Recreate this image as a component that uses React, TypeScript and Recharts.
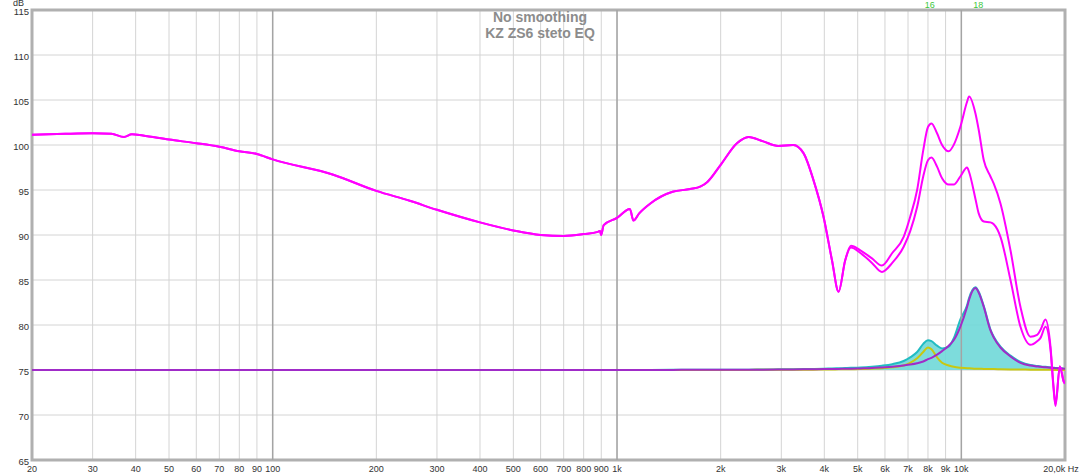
import React from "react";
import {
  ComposedChart,
  Line,
  Area,
  XAxis,
  YAxis,
  CartesianGrid,
  ReferenceLine,
  ReferenceArea,
} from "recharts";

// frequency points (Hz)
const freqs = [
  20, 25, 30, 34, 37, 39, 42, 50, 60, 70, 80, 90, 100, 150, 200, 250, 300,
  400, 500, 600, 700, 800, 880, 893, 899, 915, 1000, 1090, 1116, 1160, 1250,
  1450, 1630, 1750, 1830, 2000, 2230, 2410, 2660, 2940, 3250, 3480, 3720,
  3980, 4210, 4400, 4600, 4780, 5090, 5500, 5880, 6300, 6800, 7100, 7440,
  7750, 8000, 8190, 8500, 8790, 9190, 9500, 9930, 10390, 10530, 10990, 11230,
  11620, 12150, 12420, 12990, 13890, 14850, 15870, 16600, 17000, 17550,
  18150, 18520, 18770, 19320, 19840, 20000,
];

// measured response (dB)
const measured = [
  101.15, 101.25, 101.3, 101.25, 100.9, 101.2, 101.05, 100.6, 100.2, 99.8,
  99.3, 99.0, 98.4, 96.7, 94.9, 93.8, 92.8, 91.4, 90.5, 90.0, 89.9, 90.1,
  90.35, 90.45, 90.0, 91.1, 91.9, 92.9, 91.6, 92.4, 93.5, 94.8, 95.1, 95.4,
  95.9, 97.8, 100.2, 100.9, 100.4, 99.9, 100.0, 99.1, 96.1, 92.0, 87.2, 83.7,
  87.2, 88.6, 88.0, 86.9, 85.9, 86.9, 88.7, 90.4, 93.1, 96.5, 98.3, 98.6,
  97.6, 96.3, 95.6, 95.6, 96.5, 97.5, 97.0, 94.0, 92.4, 91.5, 91.4, 91.2,
  89.8, 85.0, 79.8, 77.8, 78.2, 78.6, 79.8, 77.3, 73.0, 71.0, 75.4, 73.7,
  73.5,
];

// measured + filters (dB)
const withEq = [
  101.15, 101.25, 101.3, 101.25, 100.9, 101.2, 101.05, 100.6, 100.2, 99.8,
  99.3, 99.0, 98.4, 96.7, 94.9, 93.8, 92.8, 91.4, 90.5, 90.0, 89.9, 90.1,
  90.35, 90.45, 90.0, 91.1, 91.9, 92.9, 91.6, 92.4, 93.5, 94.8, 95.1, 95.4,
  95.9, 97.8, 100.2, 100.9, 100.4, 99.9, 100.0, 99.1, 96.1, 92.0, 87.2, 83.7,
  87.2, 88.8, 88.3, 87.4, 86.6, 88.0, 89.8, 92.0, 95.0, 99.4, 102.0, 102.4,
  101.3, 100.0, 99.3, 100.0, 102.0, 104.8, 105.4, 103.5, 101.7, 98.3, 96.5,
  95.7, 93.5, 88.3, 82.0, 78.7, 78.9, 79.5, 80.6, 77.6, 73.2, 71.2, 75.4,
  73.7, 73.5,
];

// filter 16
const filter16 = [
  75, 75, 75, 75, 75, 75, 75, 75, 75, 75, 75, 75, 75, 75, 75, 75, 75, 75, 75,
  75, 75, 75, 75, 75, 75, 75, 75, 75, 75, 75, 75, 75.01, 75.01, 75.01, 75.01,
  75.01, 75.01, 75.01, 75.02, 75.02, 75.02, 75.03, 75.04, 75.05, 75.06,
  75.07, 75.08, 75.09, 75.1, 75.15, 75.2, 75.3, 75.5, 75.8, 76.3, 77.0, 77.5,
  77.3, 76.4, 75.8, 75.5, 75.35, 75.25, 75.2, 75.2, 75.15, 75.15, 75.12,
  75.1, 75.1, 75.08, 75.06, 75.05, 75.04, 75.03, 75.03, 75.02, 75.02, 75.01,
  75.01, 75.0, 75.0, 75.0,
];

// filter 18
const filter18 = [
  75, 75, 75, 75, 75, 75, 75, 75, 75, 75, 75, 75, 75, 75, 75, 75, 75, 75, 75,
  75, 75, 75, 75, 75, 75, 75, 75, 75.01, 75.01, 75.01, 75.01, 75.01, 75.02,
  75.02, 75.02, 75.02, 75.03, 75.03, 75.04, 75.05, 75.06, 75.07, 75.08, 75.1,
  75.11, 75.12, 75.14, 75.15, 75.18, 75.22, 75.28, 75.35, 75.5, 75.6, 75.75,
  75.95, 76.2, 76.35, 76.7, 77.1, 77.7, 78.3, 79.8, 82.0, 82.8, 84.1, 83.6,
  82.0, 79.4, 78.6, 77.5, 76.5, 75.8, 75.5, 75.4, 75.35, 75.3, 75.25, 75.22,
  75.2, 75.18, 75.15, 75.15,
];

// combined filters
const filterSum = [
  75, 75, 75, 75, 75, 75, 75, 75, 75, 75, 75, 75, 75, 75, 75, 75, 75, 75, 75,
  75, 75, 75, 75, 75, 75, 75, 75, 75.01, 75.01, 75.01, 75.01, 75.02, 75.03,
  75.03, 75.03, 75.03, 75.04, 75.04, 75.06, 75.07, 75.08, 75.1, 75.12, 75.15,
  75.17, 75.19, 75.22, 75.24, 75.28, 75.37, 75.48, 75.65, 76.0, 76.4, 77.0,
  77.9, 78.3, 78.2, 77.7, 77.4, 77.6, 78.5, 80.6, 82.2, 83.0, 84.2, 83.7,
  82.1, 79.5, 78.7, 77.6, 76.6, 75.9, 75.55, 75.45, 75.4, 75.35, 75.3, 75.25,
  75.22, 75.2, 75.17, 75.17,
];

const xTicks = [
  20, 30, 40, 50, 60, 70, 80, 90, 100, 200, 300, 400, 500, 600, 700, 800, 900,
  1000, 2000, 3000, 4000, 5000, 6000, 7000, 8000, 9000, 10000, 20000,
];
const xTickLabels = [
  "20", "30", "40", "50", "60", "70", "80", "90", "100", "200", "300", "400",
  "500", "600", "700", "800", "900", "1k", "2k", "3k", "4k", "5k", "6k", "7k",
  "8k", "9k", "10k", "20,0k Hz",
];
const yTicks = [65, 70, 75, 80, 85, 90, 95, 100, 105, 110, 115];
const decades = [100, 1000, 10000];
const filterLabels = ["16", "18"];
const filterCenters = [8100, 11200];

const data = freqs.map((f, i) => ({
  freq: f,
  measured: measured[i],
  withEq: withEq[i],
  f16: filter16[i],
  f18: filter18[i],
  sum: filterSum[i],
}));

const font = "'Liberation Sans', Arial, sans-serif";

function XTick(props: any) {
  const { x, y, payload } = props;
  const idx = xTicks.indexOf(payload.value);
  const last = idx === xTicks.length - 1;
  return (
    <text
      x={x + (last ? -4 : 0)}
      y={y}
      dy="0.71em"
      textAnchor="middle"
      fontSize={9}
      fill="#333"
      fontFamily={font}
    >
      {xTickLabels[idx]}
    </text>
  );
}

function YTick(props: any) {
  const { x, y, payload } = props;
  return (
    <text
      x={x}
      y={y + 2}
      dy="0.355em"
      textAnchor="end"
      fontSize={9.5}
      fill="#333"
      fontFamily={font}
    >
      {payload.value}
    </text>
  );
}

export default function App() {
  return (
    <div style={{ position: "relative", width: 1080, height: 475, background: "#fff" }}>
      <style>{"body{margin:0}"}</style>
      <ComposedChart
        width={1080}
        height={475}
        data={data}
        margin={{ top: 10, right: 15, bottom: 0, left: 0 }}
      >
        <CartesianGrid stroke="#d4d4d4" strokeWidth={1} />
        <XAxis
          dataKey="freq"
          type="number"
          scale="log"
          domain={[20, 20000]}
          ticks={xTicks}
          interval={0}
          allowDataOverflow
          axisLine={false}
          tickLine={false}
          tickSize={3}
          tickMargin={3}
          height={15}
          tick={<XTick />}
        />
        <YAxis
          type="number"
          domain={[65, 115]}
          ticks={yTicks}
          interval={0}
          allowDataOverflow
          axisLine={false}
          tickLine={false}
          tickSize={3}
          tickMargin={0}
          width={32}
          tick={<YTick />}
        />
        {decades.map((d) => (
          <ReferenceLine key={d} x={d} stroke="#a4a4a4" strokeWidth={1.5} />
        ))}
        {filterCenters.map((f, i) => (
          <ReferenceLine
            key={f}
            x={f}
            stroke="none"
            label={{
              value: filterLabels[i],
              position: "top",
              offset: 2,
              fill: "#3cc83c",
              fontSize: 9,
              fontFamily: font,
            }}
          />
        ))}
        <Area
          type="monotone"
          dataKey="sum"
          baseValue={75}
          fill="#6fd8d8"
          fillOpacity={0.9}
          stroke="#22bcc2"
          strokeWidth={2}
          isAnimationActive={false}
        />
        <Line
          type="monotone"
          dataKey="f16"
          stroke="#c8c810"
          strokeWidth={2}
          dot={false}
          isAnimationActive={false}
        />
        <Line
          type="monotone"
          dataKey="f18"
          stroke="#a02cc8"
          strokeWidth={2}
          dot={false}
          isAnimationActive={false}
        />
        <Line
          type="monotone"
          dataKey="withEq"
          stroke="#ff00ff"
          strokeWidth={2}
          dot={false}
          isAnimationActive={false}
        />
        <Line
          type="monotone"
          dataKey="measured"
          stroke="#ff00ff"
          strokeWidth={2}
          dot={false}
          isAnimationActive={false}
        />
        <ReferenceArea
          x1={20}
          x2={20000}
          y1={65}
          y2={115}
          fill="none"
          stroke="#b0b0b0"
          strokeWidth={3}
          ifOverflow="visible"
        />
      </ComposedChart>
      <div
        style={{
          position: "absolute",
          left: 0,
          width: 1080,
          top: 9,
          textAlign: "center",
          fontFamily: font,
          fontWeight: "bold",
          fontSize: 14,
          lineHeight: "16px",
          color: "#8c8c8c",
        }}
      >
        <div>No smoothing</div>
        <div>KZ ZS6 steto EQ</div>
      </div>
      <div
        style={{
          position: "absolute",
          left: 13,
          top: -1,
          fontFamily: font,
          fontSize: 9,
          lineHeight: "8px",
          color: "#333",
        }}
      >
        dB
      </div>
    </div>
  );
}
